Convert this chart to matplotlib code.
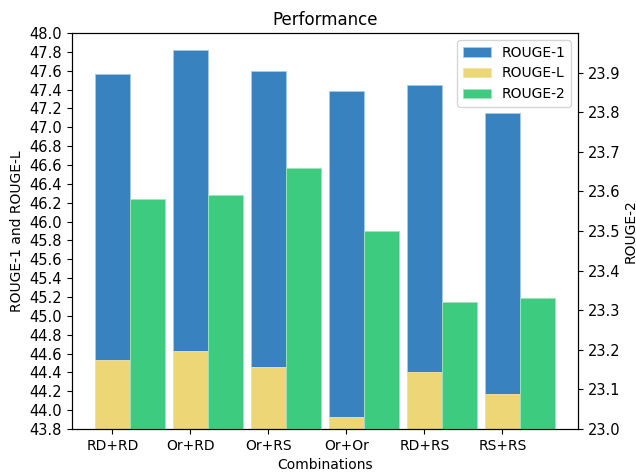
import matplotlib
matplotlib.use("Agg")
import matplotlib.pyplot as plt
import numpy as np

categories = ["RD+RD", "Or+RD", "Or+RS", "Or+Or", "RD+RS", "RS+RS"]
rouge1 = [47.57, 47.82, 47.60, 47.38, 47.45, 47.15]
rougeL = [44.53, 44.63, 44.46, 43.93, 44.40, 44.17]
rouge2 = [23.58, 23.59, 23.66, 23.50, 23.32, 23.33]

x = np.arange(len(categories))
w = 0.45

fig, ax1 = plt.subplots(figsize=(6.36, 4.72), dpi=100)
b1 = ax1.bar(x, rouge1, w, color="#3882c0", edgecolor="#a8cbe6", linewidth=0.6, label="ROUGE-1")
bL = ax1.bar(x, rougeL, w, color="#edd676", edgecolor="#f3e5a8", linewidth=0.6, label="ROUGE-L")
ax1.set_ylim(43.8, 48.0)
ax1.set_yticks(np.arange(43.8, 48.01, 0.2))
ax1.set_ylabel("ROUGE-1 and ROUGE-L")
ax1.set_xlabel("Combinations")
ax1.set_xticks(x)
ax1.set_xticklabels(categories)
ax1.tick_params(axis="y", labelsize=10.5)

ax2 = ax1.twinx()
b2 = ax2.bar(x + w, rouge2, w, color="#3ccb7f", edgecolor="#9ee5bf", linewidth=0.6, label="ROUGE-2")
ax2.set_ylim(23.0, 24.0)
ax2.set_yticks(np.arange(23.0, 23.95, 0.1))
ax2.set_ylabel("ROUGE-2", labelpad=2)
ax2.tick_params(axis="y", labelsize=10.5)

ax1.set_title("Performance")
ax2.legend([b1, bL, b2], ["ROUGE-1", "ROUGE-L", "ROUGE-2"], loc="upper right")

fig.subplots_adjust(left=0.113, right=0.909, top=0.93, bottom=0.091)
fig.savefig("out.png", dpi=100)
